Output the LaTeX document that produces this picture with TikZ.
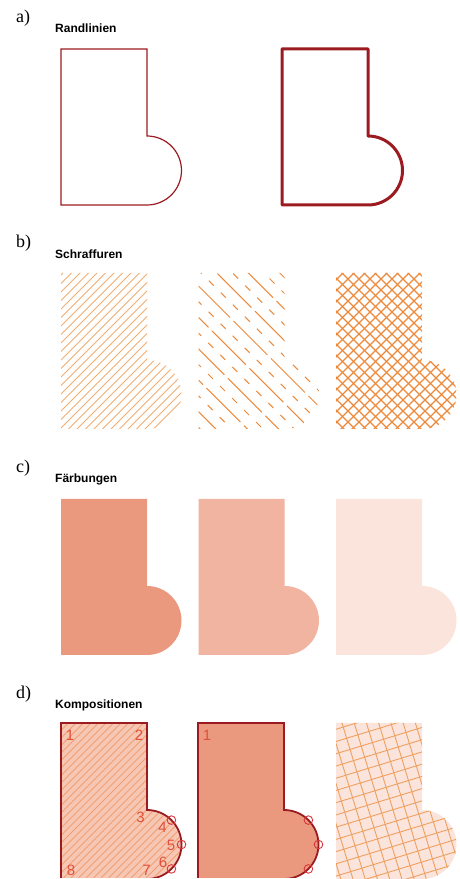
\documentclass[tikz,border=0pt]{standalone}
\usepackage{fontspec}
\newfontfamily\labfont{Liberation Serif}
\newfontfamily\titfont{Liberation Sans}
\definecolor{darkred}{HTML}{9B1B20}
\definecolor{hatchlight}{HTML}{F3AD72}
\definecolor{hatchorange}{HTML}{EC8A3C}
\definecolor{salmonA}{HTML}{EA997E}
\definecolor{salmonB}{HTML}{F1B4A0}
\definecolor{salmonC}{HTML}{FAE4DB}
\definecolor{dfill}{HTML}{F7C7B5}
\definecolor{dhatch}{HTML}{F0A070}
\definecolor{numred}{HTML}{E2503A}
\definecolor{circred}{HTML}{D8363A}
\definecolor{gridorange}{HTML}{EFA060}
\tikzset{
  boot/.style={insert path={(0,0) -- (86,0) -- (86,-87) arc[start angle=90,end angle=-90,radius=34.5] -- (0,-156) -- cycle}},
  seclabel/.style={anchor=base west, inner sep=0pt, font=\labfont\fontsize{18}{20}\selectfont},
  sectitle/.style={anchor=base west, inner sep=0pt, font=\titfont\bfseries\fontsize{12}{14}\selectfont},
  numlab/.style={inner sep=0pt, text=numred, font=\titfont\fontsize{15}{17}\selectfont},
  marker/.style={draw=circred, line width=0.9pt},
  thinborder/.style={draw=darkred, line width=1.2pt},
  thickborder/.style={draw=darkred, line width=3pt, line join=round},
  dborder/.style={draw=darkred, line width=1.8pt},
}
\begin{document}
\begin{tikzpicture}[x=1pt,y=1pt]
\useasboundingbox (0,0) rectangle (459,879);

% ---------- labels
\node[seclabel] (la) at (16,856) {a)};
\node[sectitle] (ta) at (55,846.7) {Randlinien};
\node[seclabel] (lb) at (16,631) {b)};
\node[sectitle] (tb) at (55,620.7) {Schraffuren};
\node[seclabel] (lc) at (16,406) {c)};
\node[sectitle] (tc) at (55,396.7) {Färbungen};
\node[seclabel] (ld) at (16,180) {d)};
\node[sectitle] (td) at (55,170.7) {Kompositionen};

% ---------- a) Randlinien
\begin{scope}[shift={(61,830)}]
  \path[thinborder, boot];
\end{scope}
\begin{scope}[shift={(282,830)}]
  \path[thickborder, boot];
\end{scope}

% ---------- b) Schraffuren
\begin{scope}[shift={(61,606)}]
  \clip[boot];
  \foreach \c in {-180,-171.5,...,130}
    \draw[hatchlight, line width=0.9pt] (\c,-165) -- ++(175,175);
\end{scope}
\begin{scope}[shift={(198.5,606)}]
  \clip[boot];
  \foreach \c [count=\k] in {-180,-164.3,...,130} {
    \ifodd\k
      \draw[hatchorange, line width=1pt, dash pattern=on 48pt off 5pt, dash phase=\k*7pt] (\c,10) -- ++(175,-175);
    \else
      \draw[hatchorange, line width=1pt, dash pattern=on 7pt off 10pt, dash phase=\k*5pt] (\c,10) -- ++(175,-175);
    \fi
  }
\end{scope}
\begin{scope}[shift={(336,606)}]
  \clip[boot];
  \foreach \c in {-180,-169,...,130} {
    \draw[hatchorange, line width=1.1pt] (\c,-165) -- ++(175,175);
    \draw[hatchorange, line width=1.1pt] (\c,10) -- ++(175,-175);
  }
\end{scope}

% ---------- c) Faerbungen
\begin{scope}[shift={(61,380)}]
  \path[fill=salmonA, boot];
\end{scope}
\begin{scope}[shift={(198.5,380)}]
  \path[fill=salmonB, boot];
\end{scope}
\begin{scope}[shift={(336,380)}]
  \path[fill=salmonC, boot];
\end{scope}

% ---------- d) Kompositionen
\begin{scope}
\clip (0,1.2) rectangle (459,879);
\begin{scope}[shift={(61,156)}]
  \path[fill=dfill, boot];
  \begin{scope}
    \clip[boot];
    \foreach \c in {-180,-172.5,...,130}
      \draw[dhatch, line width=0.8pt] (\c,-165) -- ++(175,175);
  \end{scope}
  \path[dborder, boot];
  \draw[marker] (110.4,-97.1) circle (4.3);
  \draw[marker] (120.5,-121.5) circle (4.3);
  \draw[marker] (110.4,-145.9) circle (4.3);
  \node[numlab] (n1) at (9,-12.5) {1};
  \node[numlab] (n2) at (78,-12) {2};
  \node[numlab] (n3) at (79.5,-94) {3};
  \node[numlab] (n4) at (101.5,-104) {4};
  \node[numlab] (n5) at (110,-122.5) {5};
  \node[numlab] (n6) at (102,-139) {6};
  \node[numlab] (n7) at (85.5,-147) {7};
  \node[numlab] (n8) at (10,-147) {8};
\end{scope}
\begin{scope}[shift={(198,156)}]
  \path[fill=salmonA, boot];
  \path[dborder, boot];
  \draw[marker] (110.4,-97.1) circle (4.3);
  \draw[marker] (120.5,-121.5) circle (4.3);
  \draw[marker] (110.4,-145.9) circle (4.3);
  \node[numlab] (m1) at (9,-12.5) {1};
\end{scope}
\end{scope}
\begin{scope}[shift={(336,156)}]
  \path[fill=salmonC, boot];
  \clip[boot];
  \begin{scope}[rotate=17]
    \foreach \t in {-240,-228.3,...,240} {
      \draw[gridorange, line width=0.9pt] (\t,-260) -- (\t,260);
      \draw[gridorange, line width=0.9pt] (-260,\t) -- (260,\t);
    }
  \end{scope}
\end{scope}
\end{tikzpicture}
\end{document}
